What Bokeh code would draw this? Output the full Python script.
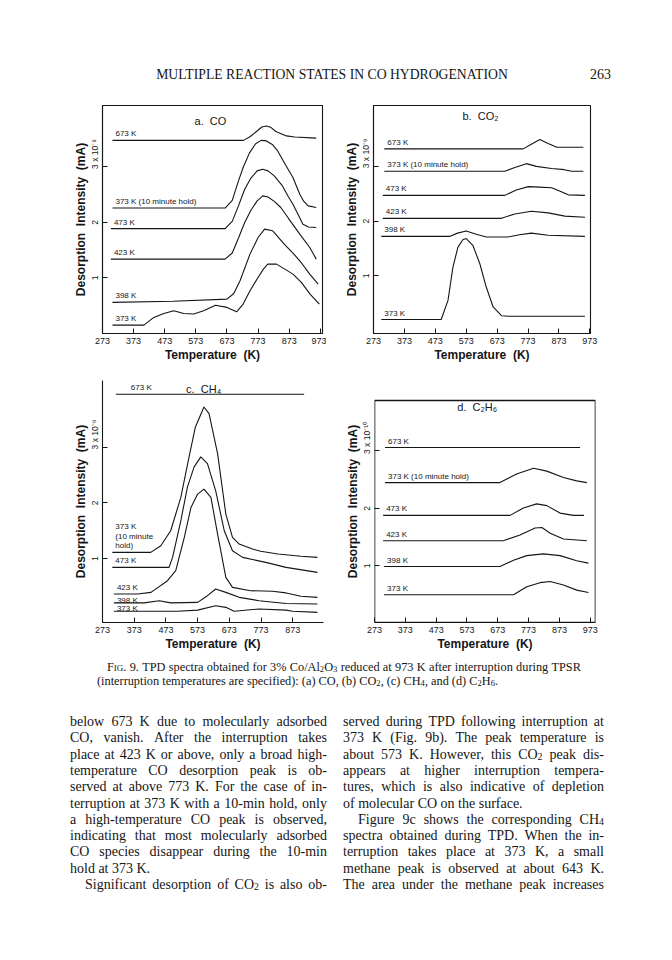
from bokeh.plotting import figure
from bokeh.models import Range1d, FixedTicker, Div, BoxAnnotation
from bokeh.layouts import column, row
from bokeh.core.properties import value
from bokeh.embed import file_html
from bokeh.resources import INLINE

# ---------------- data ----------------
temp_ticks = [273, 373, 473, 573, 673, 773, 873, 973]
intensity_ticks = [1, 2, 3]
curve_names = ["673 K", "373 K (10 minute hold)", "473 K", "423 K", "398 K", "373 K"]

# (a) CO, scale 3 x 10^-8
co_673_T = [305, 726, 748, 768, 785, 800, 815, 830, 864, 891, 960]
co_673_I = [3.48, 3.48, 3.55, 3.64, 3.72, 3.74, 3.71, 3.64, 3.56, 3.54, 3.52]
co_hold_T = [305, 667, 690, 710, 725, 745, 765, 783, 800, 820, 836, 860, 885, 907, 920, 934, 960]
co_hold_I = [2.26, 2.26, 2.4, 2.75, 2.99, 3.25, 3.42, 3.48, 3.47, 3.4, 3.29, 3.05, 2.81, 2.51, 2.38, 2.30, 2.27]
co_473_T = [300, 667, 690, 710, 730, 750, 770, 788, 805, 825, 850, 870, 885, 900, 917, 935, 960]
co_473_I = [1.89, 1.89, 2.02, 2.3, 2.6, 2.8, 2.93, 2.96, 2.93, 2.84, 2.67, 2.47, 2.33, 2.16, 1.97, 1.92, 1.91]
co_423_T = [300, 667, 690, 710, 730, 750, 770, 788, 805, 825, 846, 870, 907, 939, 960]
co_423_I = [1.34, 1.34, 1.45, 1.72, 2.0, 2.22, 2.39, 2.48, 2.46, 2.38, 2.27, 2.08, 1.79, 1.55, 1.34]
co_398_T = [305, 500, 673, 695, 715, 747, 773, 794, 820, 857, 885, 907, 939, 966]
co_398_I = [0.56, 0.58, 0.62, 0.72, 0.95, 1.43, 1.73, 1.88, 1.85, 1.61, 1.45, 1.31, 1.07, 0.89]
co_373_T = [305, 406, 438, 470, 502, 534, 566, 598, 636, 673, 704, 725, 747, 773, 790, 804, 832, 859, 885, 912, 940, 970]
co_373_I = [0.15, 0.15, 0.29, 0.36, 0.41, 0.36, 0.35, 0.41, 0.51, 0.47, 0.39, 0.53, 0.77, 1.01, 1.16, 1.25, 1.25, 1.16, 1.07, 0.92, 0.71, 0.53]

# (b) CO2, scale 3 x 10^-9
co2_673_T = [308, 757, 785, 811, 838, 866, 952]
co2_673_I = [3.32, 3.32, 3.41, 3.49, 3.42, 3.35, 3.35]
co2_hold_T = [308, 698, 730, 768, 800, 849, 890, 914, 952]
co2_hold_I = [2.91, 2.91, 2.98, 3.05, 3.0, 2.96, 2.94, 2.91, 2.91]
co2_473_T = [303, 698, 735, 774, 810, 849, 875, 903, 957]
co2_473_I = [2.47, 2.47, 2.57, 2.63, 2.62, 2.61, 2.55, 2.48, 2.47]
co2_423_T = [303, 687, 730, 784, 838, 892, 957]
co2_423_I = [2.05, 2.05, 2.13, 2.18, 2.15, 2.09, 2.07]
co2_398_T = [298, 519, 545, 573, 605, 638, 708, 745, 784, 838, 957]
co2_398_I = [1.72, 1.72, 1.78, 1.82, 1.76, 1.71, 1.71, 1.75, 1.78, 1.74, 1.72]
co2_373_T = [298, 492, 514, 530, 546, 562, 573, 595, 617, 638, 660, 687, 710, 957]
co2_373_I = [0.20, 0.20, 0.55, 1.16, 1.52, 1.66, 1.68, 1.55, 1.22, 0.79, 0.43, 0.27, 0.26, 0.26]

# (c) CH4, scale 3 x 10^-9
ch4_673_T = [315, 909]
ch4_673_I = [3.96, 3.96]
ch4_hold_T = [304, 425, 457, 488, 520, 546, 566, 593, 609, 636, 662, 683, 704, 746, 772, 826, 899, 951]
ch4_hold_I = [1.11, 1.11, 1.23, 1.5, 2.1, 2.83, 3.37, 3.73, 3.61, 2.89, 1.80, 1.38, 1.26, 1.17, 1.13, 1.08, 1.04, 1.02]
ch4_473_T = [304, 483, 494, 520, 541, 562, 583, 604, 630, 657, 683, 715, 788, 852, 951]
ch4_473_I = [0.84, 0.84, 1.02, 1.68, 2.29, 2.65, 2.83, 2.71, 2.22, 1.5, 1.14, 1.02, 0.93, 0.84, 0.75]
ch4_423_T = [309, 383, 426, 478, 504, 531, 552, 573, 593, 615, 636, 662, 683, 740, 809, 852, 899, 951]
ch4_423_I = [0.36, 0.36, 0.39, 0.6, 0.78, 1.38, 1.92, 2.16, 2.25, 2.1, 1.44, 0.66, 0.48, 0.42, 0.41, 0.38, 0.32, 0.30]
ch4_398_T = [309, 404, 452, 488, 573, 604, 630, 662, 704, 767, 852, 951]
ch4_398_I = [0.20, 0.20, 0.24, 0.20, 0.21, 0.33, 0.45, 0.39, 0.30, 0.24, 0.19, 0.18]
ch4_373_T = [309, 510, 573, 630, 662, 688, 767, 852, 873, 951]
ch4_373_I = [0.05, 0.05, 0.07, 0.15, 0.12, 0.05, 0.09, 0.07, 0.05, 0.03]

# (d) C2H6, scale 3 x 10^-10
c2h6_673_T = [307, 940]
c2h6_673_I = [3.06, 3.06]
c2h6_hold_T = [307, 680, 734, 789, 832, 886, 929, 962]
c2h6_hold_I = [2.45, 2.45, 2.6, 2.70, 2.65, 2.54, 2.48, 2.45]
c2h6_473_T = [301, 713, 756, 799, 832, 875, 918, 953]
c2h6_473_I = [1.88, 1.88, 2.01, 2.08, 2.05, 1.92, 1.88, 1.88]
c2h6_423_T = [301, 691, 745, 794, 816, 843, 886, 962]
c2h6_423_I = [1.44, 1.44, 1.54, 1.66, 1.67, 1.57, 1.47, 1.44]
c2h6_398_T = [304, 680, 724, 767, 821, 875, 929, 967]
c2h6_398_I = [0.99, 0.99, 1.1, 1.18, 1.21, 1.18, 1.09, 1.05]
c2h6_373_T = [304, 724, 767, 810, 843, 886, 929, 967]
c2h6_373_I = [0.50, 0.50, 0.64, 0.71, 0.73, 0.67, 0.58, 0.54]

# ---------------- styling helpers ----------------
SANS = "Liberation Sans"
SERIF = "Liberation Serif"
INK = "#151515"


def make_panel(width, height, borders, x_end, y_range, title, title_xy, exponent,
               curves, label_names, label_offsets, frame="full", box_top=None):
    left, top, right, bottom = borders
    p = figure(width=width, height=height, output_backend="svg", toolbar_location=None,
               x_range=Range1d(273, x_end), y_range=Range1d(*y_range),
               min_border_left=left, min_border_top=top, min_border_right=right,
               min_border_bottom=bottom, background_fill_color="white",
               border_fill_color="white")
    p.grid.visible = False
    p.outline_line_color = INK if frame == "full" else None
    p.outline_line_width = 1.1

    xa = p.xaxis[0]
    xa.ticker = FixedTicker(ticks=temp_ticks)
    xa.axis_label = "Temperature\u00a0\u00a0(K)"
    ya = p.yaxis[0]
    ya.ticker = FixedTicker(ticks=intensity_ticks)
    ya.axis_label = "Desorption\u00a0\u00a0Intensity\u00a0\u00a0(mA)"
    pad = "\u00a0" * 11
    ya.major_label_overrides = {1: "1", 2: "2", 3: pad + "3 x 10" + exponent}
    ya.major_label_orientation = "vertical"
    for ax in (xa, ya):
        ax.axis_line_color = INK
        ax.axis_line_width = 1.1
        ax.major_tick_line_color = INK
        ax.major_tick_in = 5
        ax.major_tick_out = 0
        ax.minor_tick_line_color = None
        ax.major_label_text_font = SANS
        ax.major_label_text_font_size = "9px"
        ax.major_label_text_color = INK
        ax.axis_label_text_font = SANS
        ax.axis_label_text_font_size = "12px"
        ax.axis_label_text_font_style = "bold"
        ax.axis_label_text_color = INK
        ax.axis_label_standoff = 1
        ax.major_label_standoff = 4
    ya.major_label_text_font_size = "8.5px"
    ya.axis_label_standoff = 0
    ya.major_label_standoff = 2

    if box_top is not None:
        # frame box whose top edge sits below the plotting area's top
        ya.axis_line_color = None
        p.add_layout(BoxAnnotation(top=box_top, fill_color=None, fill_alpha=0,
                                   line_color=INK, line_alpha=1.0, line_width=1.6))

    for (xs, ys), name, (dx, dy) in zip(curves, label_names, label_offsets):
        p.line(xs, ys, line_color=INK, line_width=1.1)
        p.text(x=[xs[0]], y=[ys[0]], text=[name], x_offset=dx, y_offset=dy,
               text_font=value(SANS), text_font_size="8px", text_color=INK,
               text_baseline="bottom", text_align="left", text_line_height=1.05)

    p.text(x=[title_xy[0]], y=[title_xy[1]], text=[title], text_font=value(SANS),
           text_font_size="11px", text_color=INK, text_align="center",
           text_baseline="middle")
    return p


std_offsets = [(3, -2)] * 6

# row 1: frames at page y 105..333 ; row 2: frames at page y 380..622
pa = make_panel(326, 275, (102, 2, 4, 45), 980, (0, 4.108), "a.\u00a0\u00a0CO", (620, 3.83), "\u207b\u2078",
                [(co_673_T, co_673_I), (co_hold_T, co_hold_I), (co_473_T, co_473_I),
                 (co_423_T, co_423_I), (co_398_T, co_398_I), (co_373_T, co_373_I)],
                curve_names, std_offsets)

pb = make_panel(338, 275, (47, 2, 74, 45), 975, (-0.055, 4.113), "b.\u00a0\u00a0CO\u2082", (619, 3.93), "\u207b\u2079",
                [(co2_673_T, co2_673_I), (co2_hold_T, co2_hold_I), (co2_473_T, co2_473_I),
                 (co2_423_T, co2_423_I), (co2_398_T, co2_398_I), (co2_373_T, co2_373_I)],
                curve_names, std_offsets)

c_names = ["673 K", "373 K\n(10 minute\n hold)", "473 K", "423 K", "398 K", "373 K"]
c_offsets = [(15, -2), (3, -2), (3, -2), (3, -2), (3, 2), (3, 2)]
pc = make_panel(326, 276, (102, 2, 3, 32), 970, (-0.153, 4.207), "c.\u00a0\u00a0CH\u2084", (592, 4.06), "\u207b\u2079",
                [(ch4_673_T, ch4_673_I), (ch4_hold_T, ch4_hold_I), (ch4_473_T, ch4_473_I),
                 (ch4_423_T, ch4_423_I), (ch4_398_T, ch4_398_I), (ch4_373_T, ch4_373_I)],
                c_names, c_offsets, frame="axes")

pd_ = make_panel(338, 276, (48, 2, 69, 32), 990, (0.017, 4.226), "d.\u00a0\u00a0C\u2082H\u2086", (606, 3.76), "\u207b\u00b9\u2070",
                 [(c2h6_673_T, c2h6_673_I), (c2h6_hold_T, c2h6_hold_I), (c2h6_473_T, c2h6_473_I),
                  (c2h6_423_T, c2h6_423_I), (c2h6_398_T, c2h6_398_I), (c2h6_373_T, c2h6_373_I)],
                 curve_names, std_offsets, frame="axes", box_top=3.878)

# ---------------- page text ----------------
header_html = (
    f'<div style="position:relative;width:664px;height:103px;font-family:\'{SERIF}\',serif;color:{INK};">'
    '<div style="position:absolute;left:0;top:67px;width:664px;text-align:center;font-size:13.7px;line-height:16px;">'
    'MULTIPLE REACTION STATES IN CO HYDROGENATION</div>'
    '<div style="position:absolute;left:590px;top:67px;font-size:14px;line-height:16px;">263</div>'
    '</div>'
)
header = Div(text=header_html, width=664, height=103, margin=0)

SUBS = {"\u2082": "2", "\u2083": "3", "\u2084": "4", "\u2086": "6"}
SUB_TMPL = '<span style="font-size:0.7em;position:relative;top:0.15em;line-height:1">{}</span>'

left_lines = [
    "below 673 K due to molecularly adsorbed",
    "CO, vanish. After the interruption takes",
    "place at 423 K or above, only a broad high-",
    "temperature CO desorption peak is ob-",
    "served at above 773 K. For the case of in-",
    "terruption at 373 K with a 10-min hold, only",
    "a high-temperature CO peak is observed,",
    "indicating that most molecularly adsorbed",
    "CO species disappear during the 10-min",
    "hold at 373 K.",
    "Significant desorption of CO\u2082 is also ob-",
]
right_lines = [
    "served during TPD following interruption at",
    "373 K (Fig. 9b). The peak temperature is",
    "about 573 K. However, this CO\u2082 peak dis-",
    "appears at higher interruption tempera-",
    "tures, which is also indicative of depletion",
    "of molecular CO on the surface.",
    "Figure 9c shows the corresponding CH\u2084",
    "spectra obtained during TPD. When the in-",
    "terruption takes place at 373 K, a small",
    "methane peak is observed at about 643 K.",
    "The area under the methane peak increases",
]
caption_lines = [
    "\u00a7Fig.\u00a7 9. TPD spectra obtained for 3% Co/Al\u2082O\u2083 reduced at 973 K after interruption during TPSR",
    "(interruption temperatures are specified): (a) CO, (b) CO\u2082, (c) CH\u2084, and (d) C\u2082H\u2086.",
]
left_ragged = {9}
left_indent = {10}
right_ragged = {5}
right_indent = {6}


def markup(word):
    out = ""
    parts = word.split("\u00a7")
    for k, seg in enumerate(parts):
        s = ""
        for ch in seg:
            s += SUB_TMPL.format(SUBS[ch]) if ch in SUBS else ch
        out += f'<span style="font-variant:small-caps">{s}</span>' if k % 2 == 1 else s
    return out


def text_line(txt, left, top, width, ragged, indent, size, lh):
    ind = 15 if indent else 0
    base = (f"position:absolute;left:{left + ind}px;top:{top}px;width:{width - ind}px;"
            f"font-size:{size}px;line-height:{lh}px;white-space:nowrap;")
    if ragged:
        return f'<div style="{base}">{markup(txt)}</div>'
    words = "".join(f"<span>{markup(w)}</span>" for w in txt.split(" "))
    return f'<div style="{base}display:flex;justify-content:space-between;">{words}</div>'


parts = [
    text_line(caption_lines[0], 107, 6, 474, False, False, 12.3, 14),
    text_line(caption_lines[1], 97, 20, 440, True, False, 12.3, 14),
]
for i, t in enumerate(left_lines):
    parts.append(text_line(t, 70, 60 + round(16.3 * i), 257, i in left_ragged, i in left_indent, 14, 16))
for i, t in enumerate(right_lines):
    parts.append(text_line(t, 343, 60 + round(16.3 * i), 261, i in right_ragged, i in right_indent, 14, 16))

body_html = (f'<div style="position:relative;width:664px;height:300px;font-family:\'{SERIF}\',serif;'
             f'color:{INK};">' + "".join(parts) + '</div>')
body = Div(text=body_html, width=664, height=300, margin=0)

layout = column(header, row(pa, pb, spacing=0), row(pc, pd_, spacing=0), body, spacing=0)

open("out.html", "w").write(file_html(layout, INLINE))
